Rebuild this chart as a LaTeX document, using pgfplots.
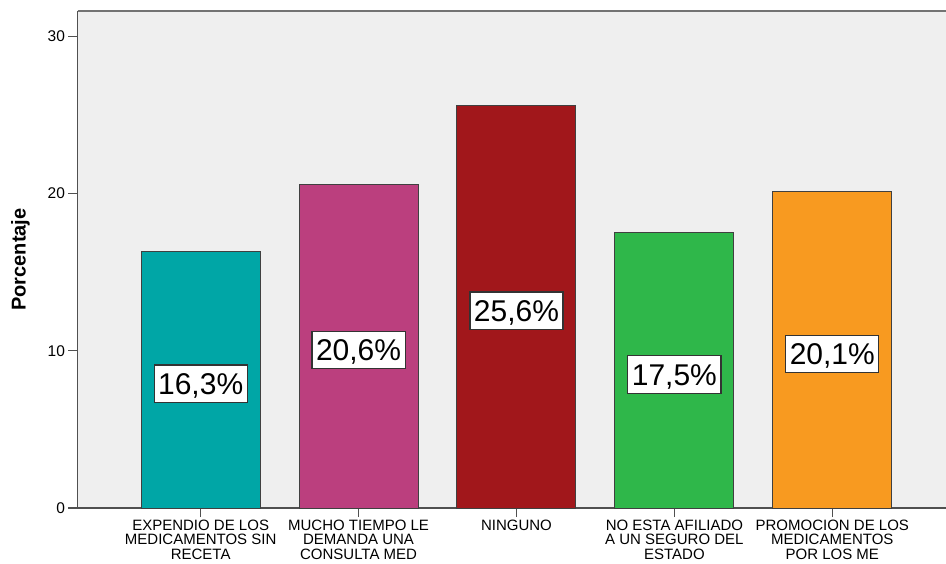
\documentclass[border=0pt]{standalone}
\usepackage{pgfplots}
\pgfplotsset{compat=1.18}
\usepackage{fontspec}
\setmainfont{Liberation Sans}
\definecolor{bg}{HTML}{EFEFEF}
\definecolor{cteal}{HTML}{00A6A6}
\definecolor{cmag}{HTML}{BB3F7E}
\definecolor{cred}{HTML}{A1171B}
\definecolor{cgreen}{HTML}{2FB74A}
\definecolor{corange}{HTML}{F89A20}
\definecolor{frame}{HTML}{505050}
\begin{document}
\begin{tikzpicture}
\useasboundingbox (0,0) rectangle (946pt,563pt);
\begin{axis}[
  at={(77.5pt,55pt)}, anchor=south west,
  scale only axis, width=868.5pt, height=497pt,
  xmin=-0.78, xmax=4.72, ymin=0, ymax=31.6,
  axis x line*=bottom, axis y line*=left,
  axis line style={frame, line width=1.2pt},
  axis background/.style={fill=bg},
  extra description/.code={\draw[frame!80, line width=2pt] (rel axis cs:0,1) -- (rel axis cs:1,1);},
  xtick={0,1,2,3,4},
  xticklabels={{EXPENDIO DE LOS\\MEDICAMENTOS SIN\\RECETA},{MUCHO TIEMPO LE\\DEMANDA UNA\\CONSULTA MED},{NINGUNO},{NO ESTA AFILIADO\\A UN SEGURO DEL\\ESTADO},{PROMOCION DE LOS\\MEDICAMENTOS\\POR LOS ME}},
  xticklabel style={align=center, font=\fontsize{15}{14.5}\selectfont, anchor=north, yshift=1pt},
  ytick={0,10,20,30},
  yticklabel style={font=\fontsize{15.5}{16}\selectfont},
  /pgf/number format/assume math mode=true,
  tick align=outside, major tick length=9pt,
  tick style={frame, line width=1.2pt},
  every axis y label/.style={at={(rel axis cs:0,0.5)}, xshift=-57pt, rotate=90, anchor=center},
  ylabel={\fontsize{20}{20}\selectfont\bfseries Porcentaje},
  ybar, bar width=119pt, bar shift=0pt,
  visualization depends on={rawy \as \rawy},
  nodes near coords={\pgfmathprintnumber[fixed,precision=1,zerofill,use comma]{\pgfplotspointmeta}\%},
  every node near coord/.append style={anchor=center, yshift={-\rawy*7.864pt-4pt},
    fill=white, draw=black!80, line width=1.2pt, font=\fontsize{30}{30}\selectfont,
    text height=21.5pt, text depth=0pt, inner xsep=4pt, inner ysep=8pt},
]
\addplot[fill=cteal, draw=black!75, line width=1pt] coordinates {(0,16.3)};
\addplot[fill=cmag, draw=black!75, line width=1pt] coordinates {(1,20.6)};
\addplot[fill=cred, draw=black!75, line width=1pt] coordinates {(2,25.6)};
\addplot[fill=cgreen, draw=black!75, line width=1pt] coordinates {(3,17.5)};
\addplot[fill=corange, draw=black!75, line width=1pt] coordinates {(4,20.1)};
\end{axis}
\end{tikzpicture}
\end{document}
